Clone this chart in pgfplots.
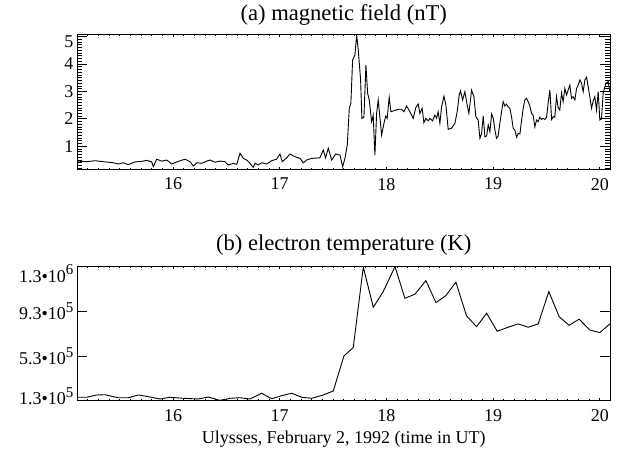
\documentclass[border=0pt]{standalone}
\usepackage{fontspec}
\setmainfont{Liberation Serif}
\usepackage{pgfplots}
\pgfplotsset{compat=1.18}

% mantissa, bullet, 10 with a large exponent (as in IDL)
\newcommand\sci[2]{#1\textbullet10\raisebox{0.42em}{\fontsize{15}{15}\selectfont #2}}

% IDL-like panel style
\pgfplotsset{
  idl/.style={
    scale only axis,
    width=533.5pt,
    xmin=15.1, xmax=20.1,
    xtick={16,17,18,19,20},
    minor xtick={15.2,15.3,...,20.05},
    axis line style={line width=1pt},
    tick style={black, line width=0.8pt},
    major tick length=10pt,
    minor tick length=5pt,
    xtick style={/pgfplots/major tick length=2.8pt, /pgfplots/minor tick length=1.6pt},
    tick label style={font=\fontsize{18}{20}\selectfont},
    /pgf/number format/assume math mode=true,
    xticklabel style={yshift=-5pt},
    title style={font=\fontsize{22.6}{25}\selectfont, at={(axis description cs:0.5,1)}, anchor=base},
  }
}

\begin{document}
\begin{tikzpicture}
\path[use as bounding box] (0pt,0pt) rectangle (621pt,-453pt);

\begin{axis}[idl,
    at={(77pt,-34.3pt)}, anchor=north west,
    height=135.2pt,
    ymin=0.154, ymax=5.084,
    ytick={1,2,3,4,5},
    yticklabels={1,2,3,4,\raisebox{-4.7pt}[\height][\depth]{5}},
    minor ytick={0.2,0.3,...,5.05},
    title={(a) magnetic field (nT)},
    title style={yshift=7.6pt},
  ]
\addplot[black, line width=0.9pt] coordinates {
(15.098,0.46) (15.192,0.44) (15.269,0.475) (15.347,0.44) (15.441,0.40) (15.488,0.355)
(15.534,0.40) (15.581,0.33) (15.644,0.43) (15.707,0.45) (15.754,0.49) (15.800,0.43)
(15.815,0.26) (15.847,0.53) (15.894,0.46) (15.941,0.50) (15.988,0.355) (16.035,0.43)
(16.112,0.53) (16.159,0.44) (16.190,0.28) (16.222,0.40) (16.269,0.38) (16.316,0.46)
(16.347,0.50) (16.393,0.42) (16.440,0.46) (16.487,0.44) (16.518,0.32) (16.565,0.38)
(16.597,0.34) (16.628,0.745) (16.659,0.56) (16.690,0.50) (16.721,0.38) (16.752,0.23)
(16.768,0.38) (16.799,0.32) (16.831,0.40) (16.878,0.355) (16.925,0.475) (16.971,0.53)
(17.002,0.72) (17.024,0.44) (17.065,0.58) (17.096,0.72) (17.143,0.62) (17.190,0.56)
(17.221,0.40) (17.252,0.50) (17.299,0.56) (17.377,0.58) (17.408,0.865) (17.430,0.58)
(17.455,0.93) (17.487,0.50) (17.524,0.72) (17.564,0.68) (17.590,0.256) (17.611,0.56)
(17.633,1.05) (17.652,2.385) (17.667,2.57) (17.683,4.15) (17.705,4.33) (17.721,5.06)
(17.736,4.51) (17.758,3.42) (17.770,2.02) (17.789,2.06) (17.808,3.96) (17.824,2.93)
(17.839,2.69) (17.861,1.90) (17.876,2.14) (17.892,0.68) (17.908,2.20) (17.923,2.69)
(17.955,1.41) (17.977,1.84) (17.993,2.10) (18.007,2.02) (18.026,2.79) (18.042,2.26)
(18.064,2.29) (18.111,2.35) (18.142,2.35) (18.164,2.26) (18.189,2.47) (18.211,2.32)
(18.236,2.14) (18.251,2.02) (18.276,2.42) (18.298,2.54) (18.314,2.20) (18.335,2.385)
(18.351,1.86) (18.370,2.02) (18.392,1.93) (18.407,2.02) (18.433,1.93) (18.454,2.14)
(18.470,2.02) (18.485,2.26) (18.501,1.84) (18.517,2.44) (18.539,2.83) (18.557,2.51)
(18.579,1.62) (18.611,1.66) (18.642,1.84) (18.663,2.26) (18.682,2.87) (18.695,3.02)
(18.714,2.69) (18.735,2.99) (18.751,2.63) (18.773,2.20) (18.798,3.05) (18.820,2.81)
(18.838,2.08) (18.860,1.96) (18.876,1.29) (18.892,1.47) (18.907,2.10) (18.923,1.35)
(18.939,1.375) (18.954,1.78) (18.970,1.53) (18.986,2.18) (19.001,2.02) (19.017,1.59)
(19.032,1.29) (19.047,1.375) (19.063,1.84) (19.079,2.26) (19.094,2.63) (19.110,2.47)
(19.126,2.54) (19.141,2.44) (19.157,2.385) (19.173,2.06) (19.188,1.66) (19.204,1.59)
(19.220,1.33) (19.235,1.47) (19.251,1.45) (19.267,1.96) (19.282,2.385) (19.297,2.69)
(19.313,2.75) (19.328,2.63) (19.344,2.47) (19.360,2.20) (19.375,2.14) (19.391,1.71)
(19.407,1.96) (19.422,1.90) (19.438,2.06) (19.454,1.98) (19.469,2.02) (19.485,1.98)
(19.501,2.06) (19.516,2.59) (19.532,3.05) (19.548,1.98) (19.563,2.08) (19.578,2.06)
(19.594,2.81) (19.609,2.42) (19.625,2.32) (19.641,2.95) (19.656,2.63) (19.672,3.11)
(19.688,2.87) (19.703,3.05) (19.719,3.23) (19.735,2.75) (19.750,2.81) (19.766,2.69)
(19.782,3.11) (19.797,3.23) (19.813,3.42) (19.829,3.30) (19.844,2.99) (19.860,3.42)
(19.876,3.52) (19.891,3.17) (19.906,2.81) (19.922,2.385) (19.938,2.66) (19.953,2.81)
(19.969,2.32) (19.985,2.99) (20.000,1.96) (20.016,2.00) (20.031,2.93) (20.056,3.30)
(20.078,3.36) (20.094,3.00)
};
\end{axis}

\begin{axis}[idl,
    at={(77pt,-266.6pt)}, anchor=north west,
    height=134.1pt,
    ymin=0.13, ymax=1.30,
    ytick={0.13,0.52,0.91,1.30},
    yticklabels={
      \raisebox{4.4pt}[\height][\depth]{\sci{1.3}{5}},
      \sci{5.3}{5},
      \sci{9.3}{5},
      \raisebox{-7pt}[\height][\depth]{\sci{1.3}{6}}},
    minor y tick num=0,
    title={(b) electron temperature (K)},
    title style={yshift=10pt},
    xlabel={Ulysses, February 2, 1992 (time in UT)},
    xlabel style={font=\fontsize{18}{20}\selectfont, at={(axis description cs:0.5,0)}, anchor=base, yshift=-42.6pt},
  ]
\addplot[black, line width=0.9pt] coordinates {
(15.098,0.160) (15.192,0.160) (15.285,0.180) (15.363,0.182) (15.488,0.156) (15.581,0.156)
(15.675,0.180) (15.769,0.165) (15.878,0.145) (15.972,0.160) (16.096,0.151) (16.237,0.145)
(16.331,0.162) (16.440,0.133) (16.534,0.151) (16.628,0.156) (16.721,0.145) (16.831,0.195)
(16.925,0.147) (17.018,0.174) (17.112,0.195) (17.206,0.160) (17.300,0.151) (17.408,0.180)
(17.502,0.215) (17.602,0.521) (17.689,0.593) (17.783,1.295) (17.877,0.945) (17.970,1.082)
(18.080,1.300) (18.173,1.024) (18.267,1.059) (18.370,1.178) (18.464,0.986) (18.557,1.047)
(18.651,1.164) (18.751,0.870) (18.845,0.776) (18.939,0.893) (19.038,0.736) (19.141,0.771)
(19.235,0.800) (19.328,0.771) (19.422,0.800) (19.522,1.082) (19.619,0.863) (19.712,0.788)
(19.806,0.841) (19.906,0.747) (20.000,0.724) (20.094,0.800)
};
\end{axis}
\end{tikzpicture}
\end{document}
